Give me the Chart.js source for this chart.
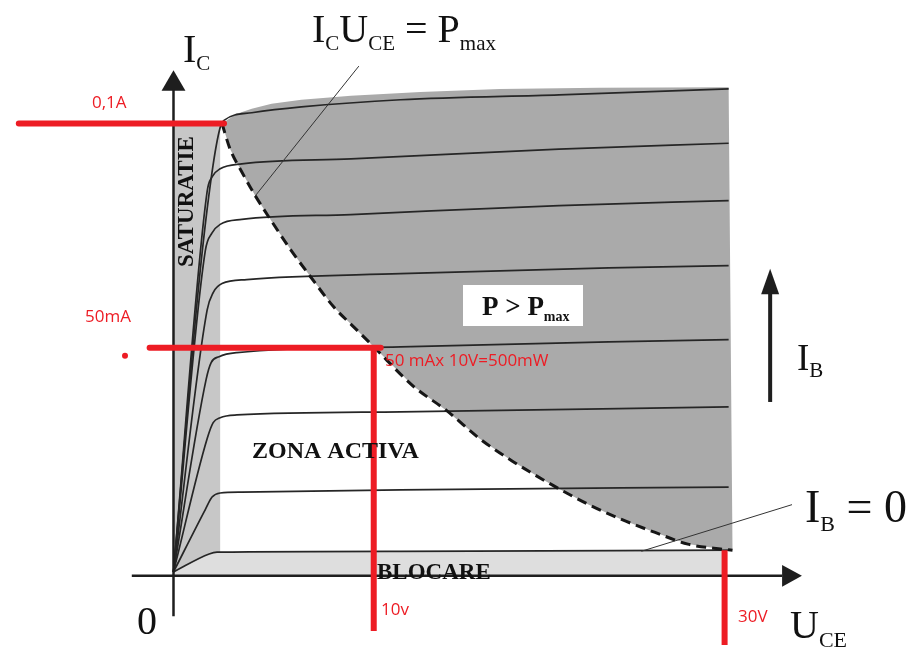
<!DOCTYPE html>
<html>
<head>
<meta charset="utf-8">
<title>Caracteristici de iesire tranzistor</title>
<script src="https://cdn.jsdelivr.net/npm/chart.js@4.4.1/dist/chart.umd.min.js"></script>
<style>
  html, body { margin: 0; padding: 0; background: #fff; }
  canvas { display: block; }
</style>
</head>
<body>
<canvas id="chart" width="910" height="649"></canvas>
<script>
/// Output characteristics of a bipolar transistor, x = U_CE (V), y = I_C (mA)
/// values (it is a sketch, the x scale is not exact)

// I_C(U_CE) curves, one per base current, top to bottom
var curve_ib8 = [ {x:0,y:0}, {x:1.40,y:65.0}, {x:2.10,y:89.2}, {x:2.54,y:99.1}, {x:2.75,y:100.7}, {x:4.26,y:102.4}, {x:6.96,y:103.7}, {x:12.36,y:105.3}, {x:20.99,y:106.4}, {x:30.22,y:107.7} ];
var curve_ib7 = [ {x:0,y:0}, {x:1.83,y:84.8}, {x:2.10,y:88.1}, {x:2.54,y:89.9}, {x:3.72,y:91.0}, {x:9.66,y:92.1}, {x:20.99,y:94.3}, {x:30.22,y:95.6} ];
var curve_ib6 = [ {x:0,y:0}, {x:1.73,y:71.6}, {x:2.10,y:75.6}, {x:2.54,y:77.5}, {x:3.72,y:78.6}, {x:9.66,y:79.7}, {x:20.99,y:81.7}, {x:30.22,y:82.8} ];
var curve_ib5 = [ {x:0,y:0}, {x:1.83,y:58.4}, {x:2.16,y:62.3}, {x:2.64,y:64.3}, {x:3.99,y:65.2}, {x:12.36,y:66.5}, {x:23.69,y:67.8}, {x:30.22,y:68.3} ];
var curve_ib4 = [ {x:0,y:0}, {x:1.78,y:43.0}, {x:2.05,y:46.7}, {x:2.48,y:48.0}, {x:3.45,y:48.9}, {x:12.36,y:50.2}, {x:23.69,y:51.3}, {x:30.22,y:51.8} ];
var curve_ib3 = [ {x:0,y:0}, {x:1.83,y:29.7}, {x:2.16,y:33.3}, {x:2.54,y:34.4}, {x:3.45,y:35.0}, {x:12.36,y:35.7}, {x:30.22,y:36.8} ];
var curve_ib2 = [ {x:0,y:0}, {x:1.73,y:13.9}, {x:2.10,y:16.7}, {x:2.54,y:17.6}, {x:3.72,y:17.8}, {x:12.36,y:18.3}, {x:30.22,y:18.9} ];
var curve_ib0 = [ {x:0,y:0}, {x:1.94,y:4.0}, {x:2.37,y:4.4}, {x:12.36,y:4.6}, {x:30.22,y:4.85} ];

// P = Pmax hyperbola (dashed)
var pmax_curve = [ {x:2.64,y:100.0}, {x:3.08,y:94.3}, {x:3.72,y:89.2}, {x:4.42,y:84.1}, {x:5.34,y:78.2}, {x:6.42,y:71.6}, {x:7.50,y:65.6}, {x:8.74,y:59.0}, {x:9.82,y:54.6}, {x:10.90,y:50.2}, {x:13.06,y:41.4}, {x:14.89,y:35.9}, {x:16.67,y:29.7}, {x:18.45,y:24.7}, {x:20.61,y:19.4}, {x:22.61,y:15.0}, {x:24.39,y:11.7}, {x:26.22,y:8.8}, {x:28.00,y:6.2}, {x:29.78,y:5.1}, {x:30.43,y:4.85} ];
// upper edge of the P > Pmax zone
var pmax_top = [ {x:2.64,y:100.0}, {x:3.45,y:102.2}, {x:4.26,y:103.3}, {x:5.34,y:104.4}, {x:6.96,y:105.3}, {x:9.66,y:106.2}, {x:13.44,y:107.0}, {x:17.75,y:107.7}, {x:23.15,y:108.0}, {x:30.22,y:108.1} ];

// zones
var sat_zone = [ {x:0,y:-0.8}, {x:2.54,y:-0.8}, {x:2.54,y:100}, {x:0,y:100} ];
var u_max = 30;          // 30V
var axis_level = -0.8;   // where the U_CE axis sits

// red marks
var mark_01A = [ {x:-8.42,y:100}, {x:2.75,y:100} ];
var mark_50mA = [ {x:-1.30,y:50}, {x:11.28,y:50} ];
var mark_10V = [ {x:10.90,y:50}, {x:10.90,y:-13.2} ];
var mark_30V = [ {x:30,y:4.85}, {x:30,y:-16.3} ];
var mark_dot = [ {x:-2.64,y:48.2} ];

// axes, arrows, leader lines
var axis_ic = [ {x:0,y:-9.9}, {x:0,y:107.7} ];
var head_ic = [ {x:-0.65,y:107.3}, {x:0.65,y:107.3}, {x:0,y:111.9} ];
var axis_uce = [ {x:-2.27,y:-0.88}, {x:33.13,y:-0.88} ];
var head_uce = [ {x:33.13,y:1.54}, {x:33.13,y:-3.30}, {x:34.21,y:-0.88} ];
var arrow_ib = [ {x:32.48,y:37.9}, {x:32.48,y:62.3} ];
var head_ib = [ {x:31.99,y:61.9}, {x:32.97,y:61.9}, {x:32.48,y:67.6} ];
var leader_pmax = [ {x:10.09,y:112.8}, {x:4.42,y:83.7} ];
var leader_ib0 = [ {x:33.67,y:15.0}, {x:25.47,y:4.6} ];

var RED = '#ed1c24';
var INK = '#1e1e1e';

function line_ds(data, color, width, order, extra) {
	var ds = { data: data, borderColor: color, borderWidth: width, pointRadius: 0,
			   fill: false, tension: 0, order: order };
	return Object.assign(ds, extra || {});
}
function shape_ds(data, color, order) {
	return { data: data, borderWidth: 0, backgroundColor: color, pointRadius: 0,
			 fill: 'shape', tension: 0, order: order };
}

// P > Pmax polygon: top edge, down the right side, back along the hyperbola
var pmax_zone = pmax_top.concat(pmax_curve.slice().reverse());
// blocking zone: under the I_B = 0 curve
var bloc_zone = curve_ib0.slice(0, -1).concat([ {x:u_max,y:4.85}, {x:u_max,y:axis_level}, {x:0,y:axis_level} ]);

var curve_opts = { cubicInterpolationMode: 'monotone' };
var aDatasets = [
	shape_ds(pmax_zone, '#aaaaaa', 30),
	shape_ds(sat_zone, '#c7c7c7', 29),
	shape_ds(bloc_zone, '#dedede', 28),
	line_ds(curve_ib8, '#262626', 1.7, 20, curve_opts),
	line_ds(curve_ib7, '#262626', 1.7, 20, curve_opts),
	line_ds(curve_ib6, '#262626', 1.7, 20, curve_opts),
	line_ds(curve_ib5, '#262626', 1.7, 20, curve_opts),
	line_ds(curve_ib4, '#262626', 1.7, 20, curve_opts),
	line_ds(curve_ib3, '#262626', 1.7, 20, curve_opts),
	line_ds(curve_ib2, '#262626', 1.7, 20, curve_opts),
	line_ds(curve_ib0, '#262626', 1.7, 20, curve_opts),
	line_ds(pmax_curve, '#161616', 3, 15, { borderDash: [10, 6], cubicInterpolationMode: 'monotone' }),
	line_ds(leader_pmax, '#333', 1, 14),
	line_ds(leader_ib0, '#333', 1, 14),
	line_ds(axis_ic, INK, 2.5, 12),
	shape_ds(head_ic, INK, 12),
	line_ds(axis_uce, INK, 2.5, 12),
	shape_ds(head_uce, INK, 12),
	line_ds(arrow_ib, INK, 4, 12),
	shape_ds(head_ib, INK, 12),
	line_ds(mark_01A, RED, 6, 2, { borderCapStyle: 'round' }),
	line_ds(mark_50mA, RED, 6, 2, { borderCapStyle: 'round' }),
	line_ds(mark_10V, RED, 6, 2),
	line_ds(mark_30V, RED, 6, 2),
	{ data: mark_dot, showLine: false, pointRadius: 3, pointBackgroundColor: RED, pointBorderWidth: 0, order: 1 }
];

// draw a run of text pieces [text, font, dy] one after the other
function text_run(ctx, x, y, parts) {
	parts.forEach(function(p) {
		ctx.font = p[1];
		ctx.fillText(p[0], x, y + (p[2] || 0));
		x += ctx.measureText(p[0]).width;
	});
}

var SERIF = '"Liberation Serif", "Times New Roman", serif';
var SANS = '"Open Sans", "Liberation Sans", sans-serif';

var labels_plugin = {
	id: 'labels',
	afterDatasetsDraw: function(chart) {
		var ctx = chart.ctx;
		ctx.save();
		ctx.textAlign = 'left';
		ctx.textBaseline = 'alphabetic';

		// box for P > Pmax
		ctx.fillStyle = '#ffffff';
		ctx.fillRect(463, 285, 120, 41);

		ctx.fillStyle = '#111';
		var big = '40px ' + SERIF, sub = '21px ' + SERIF;
		text_run(ctx, 312, 42, [ ['I', big], ['C', sub, 8], ['U', big], ['CE', sub, 8], [' = P', big], ['max', sub, 8] ]);
		text_run(ctx, 183, 62, [ ['I', big], ['C', sub, 8] ]);
		text_run(ctx, 790, 638, [ ['U', big], ['CE', '22px ' + SERIF, 9] ]);
		text_run(ctx, 805, 522, [ ['I', '46px ' + SERIF], ['B', '22px ' + SERIF, 9], [' = 0', '46px ' + SERIF] ]);
		text_run(ctx, 797, 370, [ ['I', '37px ' + SERIF], ['B', '21px ' + SERIF, 7] ]);
		ctx.textAlign = 'center';
		ctx.font = big;
		ctx.fillText('0', 147, 634);
		ctx.textAlign = 'left';

		text_run(ctx, 482, 315, [ ['P > P', 'bold 27px ' + SERIF], ['max', 'bold 14px ' + SERIF, 6] ]);
		ctx.font = 'bold 24px ' + SERIF;
		ctx.fillText('ZONA ACTIVA', 252, 458);
		ctx.font = 'bold 23px ' + SERIF;
		ctx.fillText('BLOCARE', 377, 579);

		// vertical SATURATIE
		ctx.save();
		ctx.translate(193, 267);
		ctx.rotate(-Math.PI / 2);
		ctx.font = 'bold 23px ' + SERIF;
		ctx.fillText('SATURATIE', 0, 0);
		ctx.restore();

		// red notes
		ctx.fillStyle = RED;
		ctx.font = '17px ' + SANS;
		ctx.textBaseline = 'middle';
		ctx.fillText('0,1A', 92, 103);
		ctx.fillText('50mA', 85, 317);
		ctx.fillText('50 mAx 10V=500mW', 385, 361);
		ctx.fillText('10v', 381, 610);
		ctx.fillText('30V', 738, 617);
		ctx.restore();
	}
};

var ctx = document.getElementById('chart');
var cfg = {
	type: 'line',
	data: { datasets: aDatasets },
	options: {
		responsive: false,
		animation: false,
		devicePixelRatio: 1,
		layout: { padding: 0 },
		plugins: {
			legend: { display: false },
			tooltip: { enabled: false },
			title: { display: false }
		},
		scales: {
			x: { type: 'linear', display: false, min: -9.227, max: 39.875 },
			y: { type: 'linear', display: false, min: -16.30, max: 126.65 }
		}
	},
	plugins: [ labels_plugin ]
};
new Chart(ctx, cfg);
</script>
</body>
</html>
